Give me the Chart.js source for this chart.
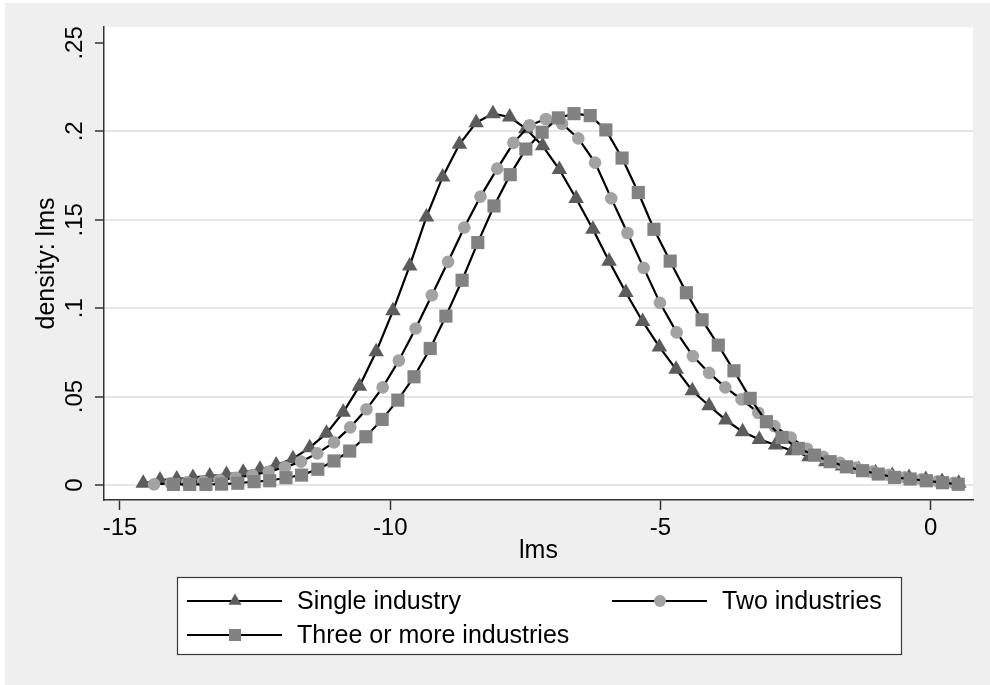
<!DOCTYPE html>
<html>
<head>
<meta charset="utf-8">
<script src="https://cdn.jsdelivr.net/npm/chart.js@4.4.1/dist/chart.umd.min.js"></script>
<style>
  html, body { margin: 0; padding: 0; background: #ffffff; }
  canvas { display: block; }
</style>
</head>
<body>
<canvas id="c" width="990" height="685"></canvas>
<script>
// ---------------- data ----------------
const seriesLabels = ['Single industry', 'Two industries', 'Three or more industries'];

const xSingle = [-14.57,-14.26,-13.95,-13.65,-13.34,-13.03,-12.72,-12.41,-12.11,-11.80,
                 -11.49,-11.18,-10.87,-10.57,-10.26,-9.95,-9.64,-9.33,-9.03,-8.72,
                 -8.41,-8.10,-7.79,-7.49,-7.18,-6.87,-6.56,-6.25,-5.95,-5.64,
                 -5.33,-5.02,-4.71,-4.41,-4.10,-3.79,-3.48,-3.17,-2.87,-2.56,
                 -2.25,-1.94,-1.63,-1.33,-1.02,-0.71,-0.40,-0.09,0.21,0.52];
const ySingle = [0.0010,0.0028,0.0034,0.0043,0.0051,0.0060,0.0072,0.0089,0.0113,0.0149,
                 0.0211,0.0292,0.0411,0.0559,0.0753,0.0985,0.1239,0.1516,0.1742,0.1927,
                 0.2049,0.2100,0.2081,0.2015,0.1918,0.1784,0.1620,0.1446,0.1266,0.1089,
                 0.0925,0.0781,0.0654,0.0533,0.0448,0.0367,0.0301,0.0258,0.0226,0.0194,
                 0.0160,0.0132,0.0108,0.0088,0.0070,0.0054,0.0042,0.0031,0.0020,0.0010];

const xTwo = [-14.37,-14.06,-13.76,-13.46,-13.16,-12.86,-12.55,-12.25,-11.95,-11.65,
              -11.35,-11.04,-10.74,-10.44,-10.14,-9.84,-9.53,-9.23,-8.93,-8.63,
              -8.33,-8.02,-7.72,-7.42,-7.12,-6.82,-6.52,-6.21,-5.91,-5.61,
              -5.31,-5.01,-4.70,-4.40,-4.10,-3.80,-3.50,-3.19,-2.89,-2.59,
              -2.29,-1.99,-1.68,-1.38,-1.08,-0.78,-0.48,-0.17,0.13,0.43];
const yTwo = [0.0004,0.0010,0.0015,0.0020,0.0028,0.0041,0.0056,0.0075,0.0100,0.0132,
              0.0179,0.0241,0.0326,0.0428,0.0552,0.0704,0.0885,0.1073,0.1262,0.1456,
              0.1631,0.1789,0.1935,0.2034,0.2070,0.2043,0.1960,0.1823,0.1621,0.1425,
              0.1228,0.1030,0.0863,0.0729,0.0634,0.0552,0.0484,0.0409,0.0333,0.0269,
              0.0205,0.0160,0.0125,0.0098,0.0076,0.0058,0.0044,0.0032,0.0021,0.0012];

const xThree = [-14.01,-13.71,-13.41,-13.12,-12.82,-12.52,-12.23,-11.93,-11.64,-11.34,
                -11.04,-10.75,-10.45,-10.15,-9.86,-9.56,-9.26,-8.97,-8.67,-8.38,
                -8.08,-7.78,-7.49,-7.19,-6.89,-6.60,-6.30,-6.01,-5.71,-5.41,
                -5.12,-4.82,-4.52,-4.23,-3.93,-3.64,-3.34,-3.04,-2.75,-2.45,
                -2.15,-1.86,-1.56,-1.26,-0.97,-0.67,-0.38,-0.08,0.22,0.51];
const yThree = [0.0003,0.0003,0.0003,0.0005,0.0010,0.0019,0.0024,0.0041,0.0056,0.0089,
                0.0136,0.0192,0.0273,0.0371,0.0480,0.0612,0.0772,0.0955,0.1158,0.1371,
                0.1578,0.1755,0.1900,0.1995,0.2076,0.2100,0.2089,0.2008,0.1849,0.1654,
                0.1446,0.1266,0.1087,0.0934,0.0791,0.0646,0.0490,0.0358,0.0269,0.0207,
                0.0169,0.0132,0.0103,0.0081,0.0062,0.0043,0.0034,0.0024,0.0013,0.0004];

const xTickValues = [-15, -10, -5, 0];
const xTickLabels = ['-15', '-10', '-5', '0'];
const yTickValues = [0, 0.05, 0.1, 0.15, 0.2, 0.25];
const yTickLabels = ['0', '.05', '.1', '.15', '.2', '.25'];
const xTitle = 'lms';
const yTitle = 'density: lms';

// ---------------- chart ----------------
const FONT = "'Liberation Sans', Arial, Helvetica, sans-serif";
Chart.defaults.font.family = FONT;
Chart.defaults.color = '#000000';

function pts(xs, ys) { return xs.map((x, i) => ({ x: x, y: ys[i] })); }

const styles = [
  { pointStyle: 'triangle', radius: 9,   color: '#5c5c5c', legendRadius: 7.5 },
  { pointStyle: 'circle',   radius: 6.3, color: '#a2a2a2', legendRadius: 6 },
  { pointStyle: 'rect',     radius: 9.3, color: '#828282', legendRadius: 8.5 }
];

const datasets = [pts(xSingle, ySingle), pts(xTwo, yTwo), pts(xThree, yThree)].map((d, i) => ({
  label: seriesLabels[i],
  data: d,
  borderColor: '#000000',
  borderWidth: 2.2,
  tension: 0,
  fill: false,
  pointStyle: styles[i].pointStyle,
  pointRadius: styles[i].radius,
  pointBackgroundColor: styles[i].color,
  pointBorderColor: styles[i].color,
  pointBorderWidth: 0,
  order: 3 - i
}));

const backgroundPlugin = {
  id: 'bg',
  beforeDraw(chart) {
    const { ctx, chartArea: a } = chart;
    ctx.save();
    ctx.fillStyle = '#ffffff';
    ctx.fillRect(0, 0, chart.width, chart.height);
    ctx.fillStyle = '#efefef';
    ctx.fillRect(5, 3, chart.width - 5, chart.height - 3);
    ctx.fillStyle = '#ffffff';
    ctx.fillRect(a.left, a.top, a.right - a.left, a.bottom - a.top);
    ctx.restore();
  }
};

const legendPlugin = {
  id: 'stataLegend',
  afterDraw(chart) {
    const ctx = chart.ctx;
    const box = { l: 177, t: 577, r: 901, b: 654 };
    const slots = [
      { x: 187, y: 601 },
      { x: 612, y: 601 },
      { x: 187, y: 635 }
    ];
    ctx.save();
    ctx.fillStyle = '#ffffff';
    ctx.fillRect(box.l, box.t, box.r - box.l, box.b - box.t);
    ctx.strokeStyle = '#3a3a3a';
    ctx.lineWidth = 1.2;
    ctx.strokeRect(box.l + 0.5, box.t + 0.5, box.r - box.l, box.b - box.t);
    chart.data.datasets.forEach((ds, i) => {
      const s = slots[i];
      ctx.strokeStyle = '#000000';
      ctx.lineWidth = 2.2;
      ctx.beginPath();
      ctx.moveTo(s.x, s.y);
      ctx.lineTo(s.x + 95, s.y);
      ctx.stroke();
      ctx.fillStyle = styles[i].color;
      Chart.helpers.drawPoint(ctx, { pointStyle: styles[i].pointStyle, radius: styles[i].legendRadius, rotation: 0, borderWidth: 0 }, s.x + 48, s.y);
      ctx.fillStyle = '#000000';
      ctx.font = '25px ' + FONT;
      ctx.textAlign = 'left';
      ctx.textBaseline = 'middle';
      ctx.fillText(ds.label, s.x + 110, s.y + 1);
    });
    ctx.restore();
  }
};

new Chart(document.getElementById('c'), {
  type: 'line',
  data: { datasets: datasets },
  options: {
    responsive: false,
    animation: false,
    devicePixelRatio: 1,
    layout: { padding: { left: 20, top: 27, right: 17, bottom: 119 } },
    plugins: { legend: { display: false }, tooltip: { enabled: false } },
    scales: {
      x: {
        type: 'linear',
        min: -15.296,
        max: 0.783,
        afterBuildTicks(s) { s.ticks = xTickValues.map(v => ({ value: v })); },
        afterFit(s) { s.height = 66; },
        grid: { drawOnChartArea: false, drawTicks: true, tickLength: 10, tickColor: '#333333', tickWidth: 1.5 },
        border: { display: true, color: '#333333', width: 1.5 },
        ticks: {
          autoSkip: false, maxRotation: 0, padding: 4,
          font: { size: 24 }, color: '#000000',
          callback(v) { const k = xTickValues.indexOf(v); return k >= 0 ? xTickLabels[k] : ''; }
        },
        title: { display: true, text: xTitle, font: { size: 25 }, color: '#000000', padding: { top: 0, bottom: 0 } }
      },
      y: {
        type: 'linear',
        min: -0.00848,
        max: 0.259,
        afterBuildTicks(s) { s.ticks = yTickValues.map(v => ({ value: v })); },
        afterFit(s) { s.width = 84; },
        grid: {
          drawOnChartArea: true, drawTicks: true, tickLength: 9,
          color(c) { return (c.tick && c.tick.value === 0.25) ? 'rgba(0,0,0,0)' : '#e6e6e6'; },
          lineWidth: 2, tickColor: '#333333', tickWidth: 1.5
        },
        border: { display: true, color: '#333333', width: 1.5 },
        ticks: {
          autoSkip: false, minRotation: 90, maxRotation: 90, padding: 3, crossAlign: 'center',
          font: { size: 24 }, color: '#000000',
          callback(v) { const k = yTickValues.indexOf(v); return k >= 0 ? yTickLabels[k] : ''; }
        },
        title: { display: true, text: yTitle, font: { size: 25 }, color: '#000000', padding: { top: 12, bottom: 0 } }
      }
    }
  },
  plugins: [backgroundPlugin, legendPlugin]
});
</script>
</body>
</html>
